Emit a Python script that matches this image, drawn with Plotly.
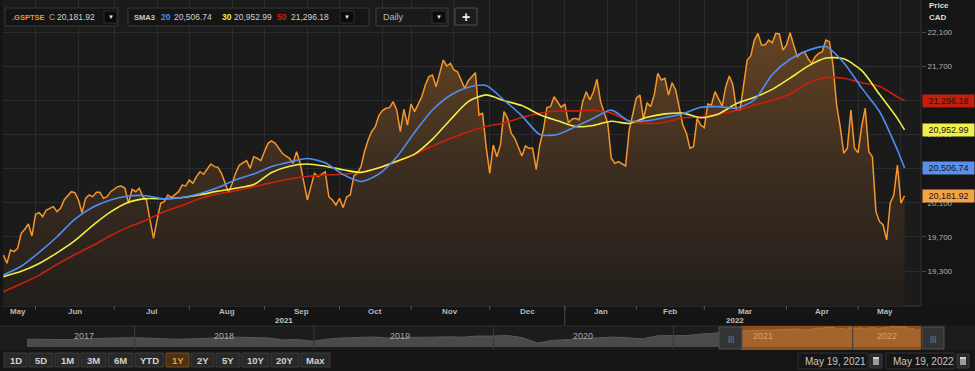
import plotly.graph_objects as go
import pandas as pd

# ---------------------------------------------------------------- data
TSX_HOLIDAYS = ["2021-05-24", "2021-07-01", "2021-08-02", "2021-09-06", "2021-10-11",
                "2021-12-27", "2021-12-28", "2022-01-03", "2022-02-21", "2022-04-15"]
START_DATE = "2021-05-18"
END_DATE = "2022-05-19"

close = [
    19489, 19391, 19547, 19528, 19567, 19743, 19790, 19852, 19711, 19965,
    19984, 19938, 20016, 20040, 20055, 19996, 20035, 20133, 20180, 20230,
    20218, 20133, 19984, 20152, 20191, 20172, 20223, 20223, 20152, 20171,
    20230, 20260, 20289, 20295, 20270, 20094, 20258, 20230, 20270, 20172,
    20133, 19899, 19684, 19899, 20094, 20113, 20191, 20160, 20191, 20230,
    20308, 20297, 20367, 20328, 20406, 20464, 20434, 20500, 20554, 20523,
    20515, 20445, 20320, 20218, 20328, 20452, 20542, 20570, 20593, 20503,
    20640, 20621, 20593, 20698, 20796, 20824, 20796, 20740, 20680, 20648,
    20621, 20562, 20698, 20562, 20328, 20133, 20289, 20444, 20406, 20440,
    20464, 20171, 20133, 20074, 20152, 20043, 20171, 20191, 20414, 20445,
    20523, 20700, 20835, 20932, 20991, 21120, 21180, 21207, 21214, 21284,
    21187, 20932, 21195, 21011, 21257, 21167, 21257, 21342, 21479, 21577,
    21596, 21460, 21616, 21772, 21702, 21733, 21655, 21635, 21538, 21441,
    21530, 21577, 21624, 21128, 21148, 20757, 20445, 20777, 20640, 20777,
    21167, 21089, 20914, 20855, 20757, 20648, 20765, 20738, 20738, 20492,
    20777, 20952, 21218, 21226, 21342, 21284, 21218, 21257, 21038, 21078,
    21089, 21070, 21284, 21401, 21304, 21401, 21546, 21284, 21148, 21030,
    20621, 20562, 20581, 20560, 20531, 20952, 21150, 21324, 21362, 21078,
    21272, 21226, 21362, 21616, 21538, 21558, 21362, 21506, 21421, 21226,
    21011, 20914, 20738, 20757, 21089, 21011, 20980, 21257, 21245, 21401,
    21324, 21233, 21460, 21585, 21479, 21187, 21187, 21479, 21772, 21819,
    22006, 22084, 21948, 21948, 22006, 21975, 22084, 22077, 21889, 21948,
    22092, 21948, 21811, 21850, 21869, 21792, 21733, 21811, 21850, 21869,
    22006, 21987, 21714, 21245, 20991, 20680, 20738, 21187, 20738, 20687,
    20991, 21207, 20698, 20640, 19996, 19879, 19840, 19664, 20094, 20191,
    20542, 20094, 20181.92,
]

# moving averages every 5th session (+ the last session)
SMA_SAMPLE_EVERY = 5
sma20 = [
    19255, 19357, 19519, 19702, 19909, 20048, 20133, 20179, 20183, 20146,
    20162, 20209, 20278, 20369, 20437, 20525, 20578, 20619, 20568, 20431,
    20350, 20437, 20636, 20925, 21186, 21359, 21452, 21473, 21302, 21118,
    20900, 20900, 20992, 21091, 21185, 21058, 21061, 21098, 21143, 21218,
    21226, 21210, 21304, 21601, 21781, 21885, 21930, 21740, 21446, 21169,
    20718, 20506.74,
]
sma30 = [
    19235, 19297, 19389, 19514, 19657, 19836, 19994, 20107, 20149, 20147,
    20161, 20194, 20236, 20271, 20314, 20454, 20528, 20555, 20528, 20486,
    20456, 20509, 20586, 20670, 20845, 21073, 21285, 21364, 21296, 21238,
    21132, 21060, 20993, 21006, 21055, 21029, 21101, 21141, 21150, 21095,
    21140, 21262, 21336, 21428, 21560, 21700, 21795, 21786, 21650, 21370,
    21089, 20952.99,
]
sma50 = [
    19059, 19151, 19253, 19378, 19494, 19599, 19717, 19815, 19898, 19999,
    20068, 20150, 20204, 20240, 20289, 20336, 20379, 20408, 20424, 20434,
    20458, 20508, 20578, 20667, 20765, 20853, 20933, 20993, 21035, 21098,
    21149, 21175, 21176, 21184, 21150, 21055, 21030, 21044, 21096, 21106,
    21140, 21180, 21245, 21300, 21376, 21501, 21564, 21558, 21506, 21465,
    21340, 21296.18,
]
sma_periods = ["20", "30", "50"]

# navigator (long history, monthly)
nav_dates = [
    "2017-05-27", "2017-06-30", "2017-07-31", "2017-08-31", "2017-09-29", "2017-10-31",
    "2017-11-30", "2017-12-29", "2018-01-31", "2018-02-28", "2018-03-29", "2018-04-30",
    "2018-05-31", "2018-06-29", "2018-07-31", "2018-08-31", "2018-09-28", "2018-10-31",
    "2018-11-30", "2018-12-31", "2019-01-31", "2019-02-28", "2019-03-29", "2019-04-30",
    "2019-05-31", "2019-06-28", "2019-07-31", "2019-08-30", "2019-09-30", "2019-10-31",
    "2019-11-29", "2019-12-31", "2020-01-31", "2020-02-28", "2020-03-31", "2020-04-30",
    "2020-05-29", "2020-06-30", "2020-07-31", "2020-08-31", "2020-09-30", "2020-10-30",
    "2020-11-30", "2020-12-31", "2021-01-29", "2021-02-26", "2021-03-31", "2021-04-30",
    "2021-05-18",
]
nav_values = [
    15350, 15182, 15144, 15211, 15635, 16026, 16067, 16209, 15952, 15443, 15367, 15608,
    16062, 16278, 16434, 16263, 16073, 15027, 15198, 14323, 15541, 16007, 16102, 16581,
    16037, 16382, 16407, 16442, 16659, 16483, 17040, 17063, 17318, 16263, 13379, 14781,
    15193, 15515, 16169, 16514, 16121, 15581, 17190, 17433, 17337, 18060, 18701, 19108,
    19489,
]
nav_year_labels = ["2017", "2018", "2019", "2020", "2021", "2022"]
nav_year_label_dates = ["2017-09-20", "2018-07-02", "2019-06-25", "2020-07-01", "2021-07-02", "2022-03-12"]
nav_year_starts = ["2018-01-01", "2019-01-01", "2020-01-01", "2021-01-01", "2022-01-01"]
nav_selection = ["2021-05-18", "2022-05-21"]

y_tick_values = [19300, 19700, 20100, 20500, 20900, 21300, 21700, 22100]
range_button_labels = ["1D", "5D", "1M", "3M", "6M", "YTD", "1Y", "2Y", "5Y", "10Y", "20Y", "Max"]
active_range = "1Y"
symbol = ".GSPTSE"
date_from_label = "May 19, 2021"
date_to_label = "May 19, 2022"
interval_label = "Daily"

# ---------------------------------------------------------------- derived axis data
dates = [d.strftime("%Y-%m-%d") for d in pd.bdate_range(START_DATE, END_DATE)
         if d.strftime("%Y-%m-%d") not in TSX_HOLIDAYS]
assert len(dates) == len(close), (len(dates), len(close))
sma_dates = dates[::SMA_SAMPLE_EVERY] + [dates[-1]]
assert len(sma_dates) == len(sma20) == len(sma30) == len(sma50)

month_starts = [i for i in range(1, len(dates)) if dates[i][5:7] != dates[i - 1][5:7]]
grid_pos = []
for m in month_starts:
    grid_pos.append(m)
    if m + 12 < len(dates):
        grid_pos.append(m + 12)
grid_vals = [dates[i] for i in sorted(grid_pos)]
bounds = [-1] + month_starts + [len(dates) + 1]
month_labels = [(pd.Timestamp(dates[max(bounds[k], 0)]).strftime("%b"), (bounds[k] + bounds[k + 1]) / 2)
                for k in range(len(bounds) - 1)]
year_start = [m for m in month_starts if dates[m][5:7] == "01"][0]
year_labels = [(dates[0][:4], year_start / 2), (dates[year_start][:4], (year_start + len(dates) - 1) / 2)]

# ---------------------------------------------------------------- styling / layout
W, H = 975, 371
ML, MR = 3, 54
PW = W - ML - MR
FONT = "Liberation Sans, Arial, sans-serif"
C_CLOSE = "#f5952c"
C_SMA20 = "#4d8ef2"
C_SMA30 = "#efef45"
C_SMA50 = "#cc1f10"
C_GRID = "#2c2c2c"
Y_MIN, Y_MAX = 18891, 22475
X_RANGE = [-0.1, 256.6]


def px(x):
    return (x - ML) / PW


def py(y):
    return (H - y) / H


shapes = []
annotations = []


def rect(x0, y0, x1, y1, fill, line=None, lw=1, layer="above"):
    shapes.append(dict(type="rect", xref="paper", yref="paper", x0=px(x0), x1=px(x1),
                       y0=py(y1), y1=py(y0), fillcolor=fill,
                       line=dict(color=line if line else fill, width=lw if line else 0), layer=layer))


def line(x0, y0, x1, y1, color, lw=1, layer="above"):
    shapes.append(dict(type="line", xref="paper", yref="paper", x0=px(x0), x1=px(x1),
                       y0=py(y0), y1=py(y1), line=dict(color=color, width=lw), layer=layer))


def text(x, y, s, size=9, color="#c8c8c8", anchor="left", bold=False, xref="paper", yref="paper"):
    annotations.append(dict(x=px(x) if xref == "paper" else x, y=py(y) if yref == "paper" else y,
                            xref=xref, yref=yref, text=s, showarrow=False, xanchor=anchor,
                            yanchor="middle", borderpad=0,
                            font=dict(family=FONT, size=size, color=color,
                                      weight="bold" if bold else "normal")))


fig = go.Figure()

# main price series with gradient fill
fig.add_trace(go.Scatter(
    x=dates, y=close, mode="lines", line=dict(color=C_CLOSE, width=1.5),
    fill="tozeroy",
    fillgradient=dict(type="vertical", start=Y_MIN, stop=22100,
                      colorscale=[[0, "rgb(34,30,27)"], [0.5, "rgb(60,45,32)"], [1, "rgb(100,68,35)"]]),
    hoverinfo="skip", xaxis="x", yaxis="y"))
for vals, col in [(sma50, C_SMA50), (sma30, C_SMA30), (sma20, C_SMA20)]:
    fig.add_trace(go.Scatter(x=sma_dates, y=vals, mode="lines",
                             line=dict(color=col, width=1.6, shape="spline", smoothing=0.7),
                             hoverinfo="skip", xaxis="x", yaxis="y"))

# navigator series
fig.add_trace(go.Scatter(x=nav_dates, y=nav_values, mode="lines", fill="tozeroy", fillcolor="#4a4a4a",
                         line=dict(color="#585858", width=1), hoverinfo="skip", xaxis="x2", yaxis="y2"))
fig.add_trace(go.Scatter(x=dates, y=close, mode="lines", fill="tozeroy", fillcolor="#a4652c",
                         line=dict(color="#b77636", width=1), hoverinfo="skip", xaxis="x2", yaxis="y2"))

# ---------------------------------------------------------------- background bands
rect(0, 306, 975, 326, "#141414", layer="below")
rect(0, 326, 975, 350, "#1c1c1c", layer="below")
line(3, 306, 921, 306, "#3a3a3a", layer="below")
line(0, 326, 946, 326, "#2e2e2e", layer="below")
line(921, 0, 921, 306, "#333333", layer="below")

# month ticks & year divider on the time axis
for m in month_starts:
    shapes.append(dict(type="line", xref="x", yref="paper", x0=m, x1=m, y0=py(306), y1=py(310),
                       line=dict(color="#555555", width=1)))
shapes.append(dict(type="line", xref="x", yref="paper", x0=year_start, x1=year_start,
                   y0=py(306), y1=py(325), line=dict(color="#4a4a4a", width=1)))
for name, pos in month_labels:
    text(pos, 311, name, size=8, color="#b8b8b8", anchor="center", bold=True, xref="x")
for name, pos in year_labels:
    text(pos, 320, name, size=8, color="#c4c4c4", anchor="center", bold=True, xref="x")

# navigator decorations
shapes.append(dict(type="rect", xref="x2", yref="paper", x0=nav_selection[0], x1=nav_selection[1],
                   y0=py(350), y1=py(326), fillcolor="#8a5020", line=dict(width=0), layer="below"))
for d in nav_year_starts:
    shapes.append(dict(type="line", xref="x2", yref="paper", x0=d, x1=d, y0=py(350), y1=py(326),
                       line=dict(color="#3a3a3a", width=1), layer="above"))
for lab, d in zip(nav_year_labels, nav_year_label_dates):
    col = "#dca062" if d >= nav_selection[0] else "#a8a8a8"
    annotations.append(dict(x=d, y=py(336), xref="x2", yref="paper", text=lab, showarrow=False,
                            xanchor="center", yanchor="middle",
                            font=dict(family=FONT, size=9, color=col)))
for hx0, hx1 in [(719, 742), (922, 944)]:
    rect(hx0, 327, hx1, 349, "#343434", "#4e4e4e")
    text((hx0 + hx1) / 2, 338, "|||", size=8, color="#8c8c8c", anchor="center")

# range buttons
button_extents = [(4, 27), (29, 53), (55, 79), (81, 106), (108, 133), (135, 164),
                  (166, 189), (191, 214), (216, 240), (242, 269), (271, 299), (301, 330)]
for lab, (bx0, bx1) in zip(range_button_labels, button_extents):
    active = lab == active_range
    rect(bx0, 353, bx1, 367, "#4c3114" if active else "#292929", "#7a4e1e" if active else "#3c3c3c")
    text((bx0 + bx1) / 2, 360.5, lab, size=9.5, color="#eb9a3c" if active else "#d0d0d0",
         anchor="center", bold=True)

# date inputs
for (bx0, bx1, ix0, ix1), lab in zip([(798, 868, 870, 882), (886, 954, 957, 969)],
                                     [date_from_label, date_to_label]):
    rect(bx0, 353, bx1, 369, "#161616", "#303030")
    text(bx0 + 6, 361, lab, size=10, color="#c8c8c8")
    rect(ix0, 354, ix1, 368, "#2a2a2a", "#3c3c3c")
    rect(ix0 + 3, 357, ix1 - 3, 365, "#9a9a9a")
    rect(ix0 + 3, 357, ix1 - 3, 359, "#d0d0d0")

# top toolbar
rect(5, 8, 118, 26, "#151515", "#383838")
text(11, 17, symbol, size=7.5, color="#f0902a", bold=True)
text(48, 17, "C", size=8.5, color="#a8a8a8")
text(56, 17, f"{close[-1]:,.2f}", size=8.5, color="#cfcfcf")
rect(128, 8, 369, 26, "#151515", "#383838")
text(133, 17, "SMA3", size=7.5, color="#c8c8c8", bold=True)
for per, vals, col, (xp, xv) in zip(sma_periods, [sma20, sma30, sma50], [C_SMA20, C_SMA30, C_SMA50],
                                   [(160, 173), (221, 233), (276, 290)]):
    text(xp, 17, per, size=8.5, color=col, bold=True)
    text(xv, 17, f"{vals[-1]:,.2f}", size=8.5, color="#cfcfcf")
rect(376, 8, 448, 26, "#1a1a1a", "#3e3e3e")
text(382, 17, interval_label, size=9, color="#b8b8b8")
for dx0, dx1 in [(104, 117), (340, 354), (432, 446)]:
    rect(dx0, 11, dx1, 23, "#0b0b0b", "#2e2e2e")
    text((dx0 + dx1) / 2, 17, "▼", size=6, color="#e8e8e8", anchor="center")
rect(455, 8, 477, 25, "#1c1c1c", "#505050")
text(466, 16.5, "+", size=14, color="#f0f0f0", anchor="center", bold=True)

# axis title
text(928, 6, "Price", size=8, color="#dcdcdc", bold=True)
text(928, 17, "CAD", size=8, color="#dcdcdc", bold=True)

# last-value tags
for vals, col in [(sma50, "#c71e0c"), (sma30, "#f0f04c"), (sma20, "#5b90ea"), (close, "#f6a345")]:
    annotations.append(dict(x=px(922), y=vals[-1], xref="paper", yref="y", text=f"{vals[-1]:,.2f}",
                            showarrow=False, xanchor="left", yanchor="middle", bgcolor=col,
                            width=49, height=10, borderpad=1, align="center",
                            font=dict(family=FONT, size=9, color="#161616")))

fig.update_layout(
    width=W, height=H, margin=dict(l=ML, r=MR, t=0, b=0, pad=0),
    paper_bgcolor="#151515", plot_bgcolor="#1b1b1b", showlegend=False,
    xaxis=dict(type="category", categoryorder="array", categoryarray=dates, range=X_RANGE,
               domain=[0, 1], anchor="y", tickmode="array", tickvals=grid_vals,
               showticklabels=False, ticks="", showgrid=True, gridcolor=C_GRID, gridwidth=1,
               zeroline=False, showline=False, fixedrange=True),
    yaxis=dict(domain=[py(306), 1], range=[Y_MIN, Y_MAX], side="right", anchor="x",
               tickmode="array", tickvals=y_tick_values, ticktext=[f"{v:,}" for v in y_tick_values],
               tickfont=dict(family=FONT, size=8, color="#b0b0b0"), ticks="outside", ticklen=4,
               tickcolor="#4a4a4a", showgrid=True, gridcolor=C_GRID, zeroline=False,
               showline=False, fixedrange=True),
    xaxis2=dict(type="date", domain=[px(27), 1], range=["2017-05-27", "2022-05-20"], anchor="y2",
                visible=False, fixedrange=True),
    yaxis2=dict(domain=[py(347), py(326)], range=[11310, 22314], anchor="x2", visible=False,
                fixedrange=True),
    shapes=shapes, annotations=annotations,
)

fig.write_html(
    "out.html",
    config=dict(displayModeBar=False, staticPlot=True),
    post_script="document.body.style.margin='0px';document.body.style.padding='0px';"
                "document.body.style.overflow='hidden';document.body.style.background='#151515';",
)
